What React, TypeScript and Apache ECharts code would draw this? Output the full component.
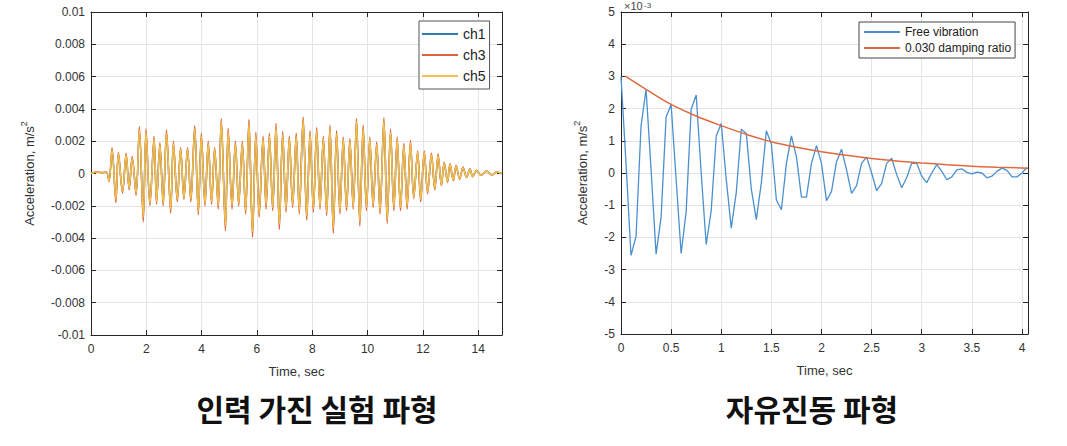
import React, { useEffect, useRef } from "react";
import * as echarts from "echarts";

// ---------- Left chart: forced vibration (values in 1e-4 m/s^2) ----------
const forcedTime = [
  0, 0.2, 0.4, 0.55, 0.65, 0.76, 0.9, 0.99, 1.14, 1.27,
  1.38, 1.49, 1.63, 1.75, 1.89, 1.99, 2.13, 2.28, 2.37, 2.49,
  2.61, 2.73, 2.88, 2.98, 3.12, 3.24, 3.36, 3.49, 3.61, 3.75,
  3.88, 3.99, 4.12, 4.24, 4.36, 4.47, 4.6, 4.71, 4.86, 4.96,
  5.1, 5.22, 5.34, 5.47, 5.59, 5.71, 5.84, 5.96, 6.08, 6.22,
  6.33, 6.45, 6.57, 6.69, 6.81, 6.93, 7.05, 7.17, 7.29, 7.42,
  7.53, 7.67, 7.8, 7.92, 8.04, 8.16, 8.28, 8.4, 8.52, 8.64,
  8.76, 8.88, 9.0, 9.12, 9.24, 9.36, 9.48, 9.6, 9.72, 9.84,
  9.96, 10.08, 10.2, 10.33, 10.45, 10.59, 10.71, 10.83, 10.95, 11.07,
  11.19, 11.31, 11.43, 11.55, 11.67, 11.81, 11.92, 12.05, 12.17, 12.31,
  12.43, 12.55, 12.67, 12.77, 12.89, 12.98, 13.1, 13.2, 13.33, 13.45,
  13.58, 13.7, 13.8, 13.94, 14.1, 14.3, 14.5, 14.66, 14.86,
];
const ch3Values = [
  0, 1, 0.5, 1, -5, 16, -18, 13, -12, 12.5,
  -10, 10.5, -13.5, 29, -30, 27.5, -20, 23, -19, 19,
  -20, 27, -24.5, 20, -17.5, 16, -16, 16, -17.5, 29.5,
  -25.5, 25, -20, 20, -19, 16, -22, 34, -35.5, 28,
  -22, 20, -20, 20, -25, 33.5, -39.5, 25.5, -27, 23,
  -22, 25, -23, 31, -34.5, 26, -24, 23, -21, 25,
  -25, 35, -29, 26.5, -24, 28.5, -22, 23, -26, 30,
  -37, 26.5, -25, 22.5, -23, 21.5, -22, 34, -32.5, 30,
  -23, 22.5, -21, 19.5, -25, 34.5, -31, 27.5, -23, 22.5,
  -23, 18.5, -22, 20.5, -15.5, 14, -17.5, 14, -12.5, 12.5,
  -10, 12, -7.5, 7, -5.5, 6, -4.5, 5, -3.5, 4,
  -2.5, 3, -2, 2, -1.2, 1.5, -1, 1, 0,
];
const ch5Values = [
  0, 1, 0.5, 1, -4.5, 14.5, -16, 12, -11, 11.5,
  -9, 9.5, -12, 27, -27, 25.5, -18.5, 21.5, -17.5, 17.5,
  -18.5, 25, -22.5, 18.5, -16, 15, -15, 15, -16, 27.5,
  -23.5, 23, -18.5, 18.5, -17.5, 15, -20, 32, -32.5, 26,
  -20, 18.5, -18.5, 18.5, -23, 31, -36, 23.5, -25, 21.5,
  -20, 23, -21, 29, -31.5, 24, -22, 21.5, -19.5, 23,
  -23, 33, -26.5, 24.5, -22, 26.5, -20.5, 21.5, -24, 28,
  -34, 24.5, -23, 21, -21, 20, -20.5, 32, -30, 28,
  -21, 21, -19.5, 18, -23, 32.5, -28.5, 25.5, -21, 21,
  -21, 17, -20, 19, -14.5, 13, -16, 13, -11.5, 11.5,
  -9, 11, -7, 6.5, -5, 5.5, -4, 4.5, -3, 3.5,
  -2.3, 2.8, -1.8, 1.8, -1.1, 1.4, -0.9, 0.9, 0,
];
const ch1Values = [
  0, 1, 0.5, 1, -4.5, 14, -15.5, 12, -11, 11,
  -9, 9.5, -12, 26.5, -26.5, 25, -18, 21, -17, 17,
  -18, 24.5, -22, 18, -16, 15, -15, 15, -16, 27,
  -23, 22.5, -18, 18, -17, 15, -19.5, 31.5, -32, 25.5,
  -19.5, 18, -18, 18, -22.5, 30.5, -35.5, 23, -24.5, 21,
  -19.5, 22.5, -20.5, 28.5, -31, 23.5, -21.5, 21, -19, 22.5,
  -22.5, 32.5, -26, 24, -21.5, 26, -20, 21, -23.5, 27.5,
  -33.5, 24, -22.5, 20.5, -20.5, 19.5, -20, 31.5, -29.5, 27.5,
  -20.5, 20.5, -19, 17.5, -22.5, 32, -28, 25, -20.5, 20.5,
  -20.5, 16.5, -19.5, 18.5, -14, 12.5, -15.5, 12.5, -11, 11,
  -9, 10.5, -7, 6.5, -5, 5.5, -4, 4.5, -3, 3.5,
  -2.3, 2.8, -1.8, 1.8, -1.1, 1.4, -0.9, 0.9, 0,
];
const forcedYTicks = [-100, -80, -60, -40, -20, 0, 20, 40, 60, 80, 100];
const forcedYLabels = ["-0.01", "-0.008", "-0.006", "-0.004", "-0.002", "0", "0.002", "0.004", "0.006", "0.008", "0.01"];

// ---------- Right chart: free vibration (values in 1e-3 m/s^2) ----------
const freeTime = [
  0, 0.05, 0.1, 0.15, 0.2, 0.25, 0.3, 0.35, 0.4, 0.45,
  0.5, 0.55, 0.6, 0.65, 0.7, 0.75, 0.8, 0.85, 0.9, 0.95,
  1.0, 1.05, 1.1, 1.15, 1.2, 1.25, 1.3, 1.35, 1.4, 1.45,
  1.5, 1.55, 1.6, 1.65, 1.7, 1.75, 1.8, 1.85, 1.9, 1.95,
  2.0, 2.05, 2.1, 2.15, 2.2, 2.25, 2.3, 2.35, 2.4, 2.45,
  2.5, 2.55, 2.6, 2.65, 2.7, 2.75, 2.8, 2.85, 2.9, 2.95,
  3.0, 3.05, 3.1, 3.15, 3.2, 3.25, 3.3, 3.35, 3.4, 3.45,
  3.5, 3.55, 3.6, 3.65, 3.7, 3.75, 3.8, 3.85, 3.9, 3.95,
  4.0, 4.05,
];
const freeValues = [
  3.0, 0.3, -2.56, -1.97, 1.46, 2.6, 0.1, -2.52, -1.37, 1.74,
  2.13, -0.2, -2.5, -1.2, 1.98, 2.42, 0.0, -2.22, -1.16, 1.15,
  1.54, -0.2, -1.71, -0.6, 1.36, 1.23, -0.5, -1.45, -0.3, 1.31,
  0.9, -0.84, -1.14, 0.3, 1.15, 0.5, -0.75, -0.75, 0.3, 0.85,
  0.3, -0.86, -0.57, 0.35, 0.74, 0.1, -0.63, -0.39, 0.3, 0.5,
  0.0, -0.55, -0.32, 0.3, 0.46, -0.05, -0.46, -0.15, 0.31, 0.3,
  -0.1, -0.3, 0.0, 0.26, 0.05, -0.21, -0.12, 0.1, 0.13, 0.02,
  -0.03, 0.03, 0.0, -0.15, -0.1, 0.05, 0.15, 0.08, -0.12, -0.12,
  0.0, 0.17,
];
const dampTime = [0.04, 0.25, 0.5, 0.75, 1.0, 1.25, 1.5, 1.75, 2.0, 2.25, 2.5, 2.75, 3.0, 3.25, 3.5, 3.75, 4.06];
const dampValues = [3.02, 2.6, 2.13, 1.77, 1.47, 1.2, 0.97, 0.8, 0.66, 0.55, 0.45, 0.37, 0.31, 0.26, 0.21, 0.18, 0.15];

const titles = ["인력 가진 실험 파형", "자유진동 파형"];
const axisName = "Acceleration, m/s{sup|2}";
const xName = "Time, sec";

const AXIS_COLOR = "#262626";
const GRID_COLOR = "#e4e4e4";
const FONT = "'Liberation Sans', Arial, sans-serif";

function zip(xs: number[], ys: number[]) {
  const n = Math.min(xs.length, ys.length);
  const out: number[][] = [];
  for (let i = 0; i < n; i++) out.push([xs[i], ys[i]]);
  return out;
}

function axisPair(gridIndex: number, xMax: number, xInterval: number) {
  const base = {
    type: "value",
    gridIndex,
    min: 0,
    max: xMax,
    interval: xInterval,
    axisLine: { show: true, onZero: false, lineStyle: { color: AXIS_COLOR, width: 1 } },
    axisTick: { show: true, inside: true, length: 5, lineStyle: { color: AXIS_COLOR } },
  };
  return [
    {
      ...base,
      position: "bottom",
      name: xName,
      nameLocation: "middle",
      nameGap: 30,
      nameTextStyle: { fontSize: 13, color: "#333", fontFamily: FONT },
      axisLabel: {
        color: "#333",
        fontSize: 12,
        margin: 8,
        fontFamily: FONT,
        showMaxLabel: false,
        formatter: (v: number) => String(Number(v.toFixed(2))),
      },
      splitLine: { show: true, lineStyle: { color: GRID_COLOR, width: 1 } },
    },
    {
      ...base,
      position: "top",
      axisLabel: { show: false },
      splitLine: { show: false },
    },
  ];
}

function yPair(gridIndex: number, min: number, max: number, interval: number, fmt: (v: number) => string, nameGap: number) {
  const base = {
    type: "value",
    gridIndex,
    min,
    max,
    interval,
    axisLine: { show: true, onZero: false, lineStyle: { color: AXIS_COLOR, width: 1 } },
    axisTick: { show: true, inside: true, length: 5, lineStyle: { color: AXIS_COLOR } },
  };
  return [
    {
      ...base,
      position: "left",
      name: axisName,
      nameLocation: "middle",
      nameGap,
      nameTextStyle: {
        fontSize: 13,
        color: "#333",
        fontFamily: FONT,
        lineHeight: 20,
        rich: { sup: { fontSize: 9, verticalAlign: "top", lineHeight: 10, color: "#333", fontFamily: FONT } },
      },
      axisLabel: { color: "#333", fontSize: 12, margin: 6, fontFamily: FONT, formatter: fmt },
      splitLine: { show: true, lineStyle: { color: GRID_COLOR, width: 1 } },
    },
    {
      ...base,
      position: "right",
      axisLabel: { show: false },
      splitLine: { show: false },
    },
  ];
}

export default function App() {
  const ref = useRef<HTMLDivElement>(null);

  useEffect(() => {
    if (!ref.current) return;
    const chart = echarts.init(ref.current, undefined, { renderer: "svg" });

    const forcedFmt = (v: number) => {
      const idx = forcedYTicks.indexOf(Math.round(v));
      return idx >= 0 ? forcedYLabels[idx] : "";
    };
    const freeFmt = (v: number) => String(Math.round(v));

    const [xb0, xt0] = axisPair(0, 14.86, 2);
    const [xb1, xt1] = axisPair(1, 4.06, 0.5);
    const [yl0, yr0] = yPair(0, -100, 100, 20, forcedFmt, 52);
    const [yl1, yr1] = yPair(1, -5, 5, 1, freeFmt, 29);

    const option: any = {
      animation: false,
      backgroundColor: "#ffffff",
      textStyle: { fontFamily: FONT },
      grid: [
        { left: 91, right: 565, top: 12, bottom: 111, containLabel: false },
        { left: 621, right: 39, top: 12, bottom: 112, containLabel: false },
      ],
      xAxis: [xb0, xt0, xb1, xt1],
      yAxis: [yl0, yr0, yl1, yr1],
      legend: [
        {
          data: ["ch1", "ch3", "ch5"],
          orient: "vertical",
          left: 419,
          top: 21,
          icon: "rect",
          itemWidth: 36,
          itemHeight: 2,
          itemGap: 5,
          padding: [5, 4, 5, 3],
          borderColor: "#555",
          borderWidth: 1,
          borderRadius: 0,
          backgroundColor: "#ffffff",
          textStyle: { fontSize: 14, color: "#222", fontFamily: FONT, lineHeight: 16 },
        },
        {
          data: ["Free vibration", "0.030 damping ratio"],
          orient: "vertical",
          left: 859,
          top: 22,
          icon: "rect",
          itemWidth: 36,
          itemHeight: 2,
          itemGap: 2,
          padding: [3, 4, 3, 5],
          borderColor: "#444",
          borderWidth: 1,
          borderRadius: 0,
          backgroundColor: "#ffffff",
          textStyle: { fontSize: 12, color: "#222", fontFamily: FONT, lineHeight: 14 },
        },
      ],
      series: [
        {
          name: "ch1",
          type: "line",
          xAxisIndex: 0,
          yAxisIndex: 0,
          data: zip(forcedTime, ch1Values),
          symbol: "none",
          smooth: 0.35,
          lineStyle: { color: "#2e7fae", width: 1.5 },
          itemStyle: { color: "#2e7fae" },
        },
        {
          name: "ch3",
          type: "line",
          xAxisIndex: 0,
          yAxisIndex: 0,
          data: zip(forcedTime, ch3Values),
          symbol: "none",
          smooth: 0.35,
          lineStyle: { color: "#dc6238", width: 1.5 },
          itemStyle: { color: "#dc6238" },
        },
        {
          name: "ch5",
          type: "line",
          xAxisIndex: 0,
          yAxisIndex: 0,
          data: zip(forcedTime, ch5Values),
          symbol: "none",
          smooth: 0.35,
          lineStyle: { color: "#f1c14c", width: 1.5 },
          itemStyle: { color: "#f1c14c" },
        },
        {
          name: "Free vibration",
          type: "line",
          xAxisIndex: 2,
          yAxisIndex: 2,
          data: zip(freeTime, freeValues),
          symbol: "none",
          lineStyle: { color: "#4a90cf", width: 1.3 },
          itemStyle: { color: "#4a90cf" },
        },
        {
          name: "0.030 damping ratio",
          type: "line",
          xAxisIndex: 2,
          yAxisIndex: 2,
          data: zip(dampTime, dampValues),
          symbol: "none",
          smooth: 0.4,
          lineStyle: { color: "#e06a40", width: 1.5 },
          itemStyle: { color: "#e06a40" },
        },
      ],
      graphic: [
        {
          type: "text",
          x: 317,
          y: 408,
          style: {
            text: titles[0],
            fontSize: 30,
            fontWeight: "bold",
            fontFamily: "'Noto Sans CJK KR', sans-serif",
            fill: "#111",
            align: "center",
            verticalAlign: "middle",
            textAlign: "center",
            textVerticalAlign: "middle",
          },
        },
        {
          type: "text",
          x: 812,
          y: 408,
          style: {
            text: titles[1],
            fontSize: 30,
            fontWeight: "bold",
            fontFamily: "'Noto Sans CJK KR', sans-serif",
            fill: "#111",
            align: "center",
            verticalAlign: "middle",
            textAlign: "center",
            textVerticalAlign: "middle",
          },
        },
        {
          type: "text",
          x: 624,
          y: 11,
          style: {
            text: "×10",
            fontSize: 11,
            fontFamily: FONT,
            fill: "#444",
            align: "left",
            verticalAlign: "bottom",
            textAlign: "left",
            textVerticalAlign: "bottom",
          },
        },
        {
          type: "text",
          x: 644,
          y: 1,
          style: {
            text: "-3",
            fontSize: 8,
            fontFamily: FONT,
            fill: "#444",
            align: "left",
            verticalAlign: "top",
            textAlign: "left",
            textVerticalAlign: "top",
          },
        },
      ],
    };

    chart.setOption(option);
    return () => {
      chart.dispose();
    };
  }, []);

  return (
    <div
      ref={ref}
      style={{ position: "fixed", left: 0, top: 0, width: 1067, height: 446, background: "#fff" }}
    />
  );
}
